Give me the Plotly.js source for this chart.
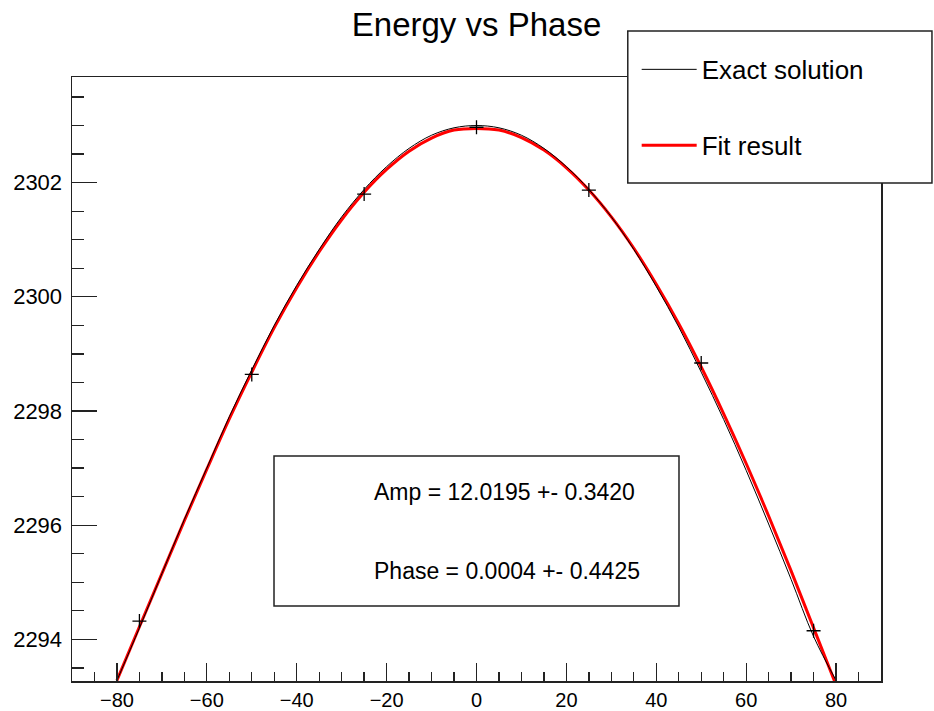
<!DOCTYPE html>
<html>
<head>
<meta charset="utf-8">
<script src="https://cdn.plot.ly/plotly-3.0.1.min.js"></script>
<style>html,body{margin:0;padding:0;background:#fff;}#chart{width:934px;height:711px;}</style>
</head>
<body>
<div id="chart"></div>
<script>
// Phase grid (degrees) for the two curves
const phaseCurve = [-80,-75,-70,-65,-60,-55,-50,-45,-40,-35,-30,-25,-20,-15,-10,-5,0,5,10,15,20,25,30,35,40,45,50,55,60,65,70,75,80];
// Exact solution (black)
const exactEnergy = [2293.28,2294.20,2295.15,2296.10,2297.00,2297.90,2298.72,2299.50,2300.20,2300.83,2301.40,2301.88,2302.28,2302.60,2302.83,2302.96,2303.00,2302.96,2302.83,2302.60,2302.28,2301.88,2301.40,2300.83,2300.18,2299.47,2298.68,2297.85,2296.96,2296.02,2295.05,2294.05,2293.28];
// Fit result (red)
const fitEnergy = [2293.28,2294.22,2295.15,2296.08,2296.98,2297.86,2298.68,2299.46,2300.16,2300.79,2301.35,2301.83,2302.23,2302.55,2302.78,2302.92,2302.95,2302.92,2302.79,2302.57,2302.26,2301.87,2301.40,2300.85,2300.22,2299.53,2298.77,2297.95,2297.08,2296.16,2295.20,2294.20,2293.20];
// Measured points (+ markers)
const phasePts = [-75,-50,-25,0,25,50,75];
const energyPts = [2294.32,2298.64,2301.80,2302.97,2301.87,2298.84,2294.15];

const titleText = "Energy vs Phase";
const legendNames = ["Exact solution","Fit result"];
const statLines = ["Amp = 12.0195 +- 0.3420","Phase = 0.0004 +- 0.4425"];

const FONT = "Liberation Sans, Arial, Helvetica, sans-serif";

const traces = [
  {x: phaseCurve, y: fitEnergy, type:'scatter', mode:'lines', name: legendNames[1],
   line:{color:'#ff0000', width:3, shape:'spline'}, legendgroup:'b', legendrank:2},
  {x: phaseCurve, y: exactEnergy, type:'scatter', mode:'lines', name: legendNames[0],
   line:{color:'#000000', width:1, shape:'spline'}, legendgroup:'a', legendrank:1},
  {x: phasePts, y: energyPts, type:'scatter', mode:'markers', showlegend:false,
   marker:{symbol:'cross-thin', size:10, color:'#000', line:{color:'#000', width:1.3}}}
];

const axisCommon = {
  showgrid:false, zeroline:false, showline:true, mirror:true,
  linecolor:'#222', linewidth:1.5, ticks:'inside', tickcolor:'#222', tickwidth:1.3
};

const layout = {
  width:934, height:711,
  margin:{l:72, r:53, t:77, b:30},
  paper_bgcolor:'#fff', plot_bgcolor:'#fff',
  title:{text:titleText, font:{family:FONT, size:33, color:'#000'}, xref:'paper', x:0.5, xanchor:'center', y:0.965, yanchor:'middle'},
  xaxis: Object.assign({}, axisCommon, {range:[-90,90], dtick:20, tick0:0, ticklen:18,
    tickfont:{family:FONT, size:20, color:'#000'},
    minor:{dtick:5, ticklen:9, ticks:'inside', tickcolor:'#222', tickwidth:1.3}}),
  yaxis: Object.assign({}, axisCommon, {range:[2293.27,2303.85], dtick:2, tick0:2294, ticklen:25, ticklabelstandoff:4,
    tickfont:{family:FONT, size:22, color:'#000'},
    minor:{dtick:0.5, ticklen:12, ticks:'inside', tickcolor:'#222', tickwidth:1.3}}),
  showlegend:true,
  legend:{x:0.698, xanchor:'left', y:1.0514, yanchor:'top', bgcolor:'rgba(0,0,0,0)', borderwidth:0,
    font:{family:FONT, size:26, color:'#000'}, traceorder:'grouped', tracegroupgap:39, itemwidth:55},
  shapes:[
    {type:'rect', xref:'paper', yref:'paper', x0:0.687, x1:1.063, y0:0.8245, y1:1.076,
     fillcolor:'#fff', line:{color:'#222', width:1.5}, layer:'above'},
    {type:'rect', xref:'paper', yref:'paper', x0:0.2497, x1:0.7503, y0:0.124, y1:0.3725,
     fillcolor:'#fff', line:{color:'#222', width:1.5}, layer:'above'}
  ],
  annotations:[
    {xref:'paper', yref:'paper', x:0.371, y:0.313, xanchor:'left', yanchor:'middle', showarrow:false,
     text:statLines[0], font:{family:FONT, size:23, color:'#000'}},
    {xref:'paper', yref:'paper', x:0.371, y:0.182, xanchor:'left', yanchor:'middle', showarrow:false,
     text:statLines[1], font:{family:FONT, size:23, color:'#000'}}
  ]
};

Plotly.newPlot('chart', traces, layout, {displayModeBar:false, staticPlot:true});
</script>
</body>
</html>
